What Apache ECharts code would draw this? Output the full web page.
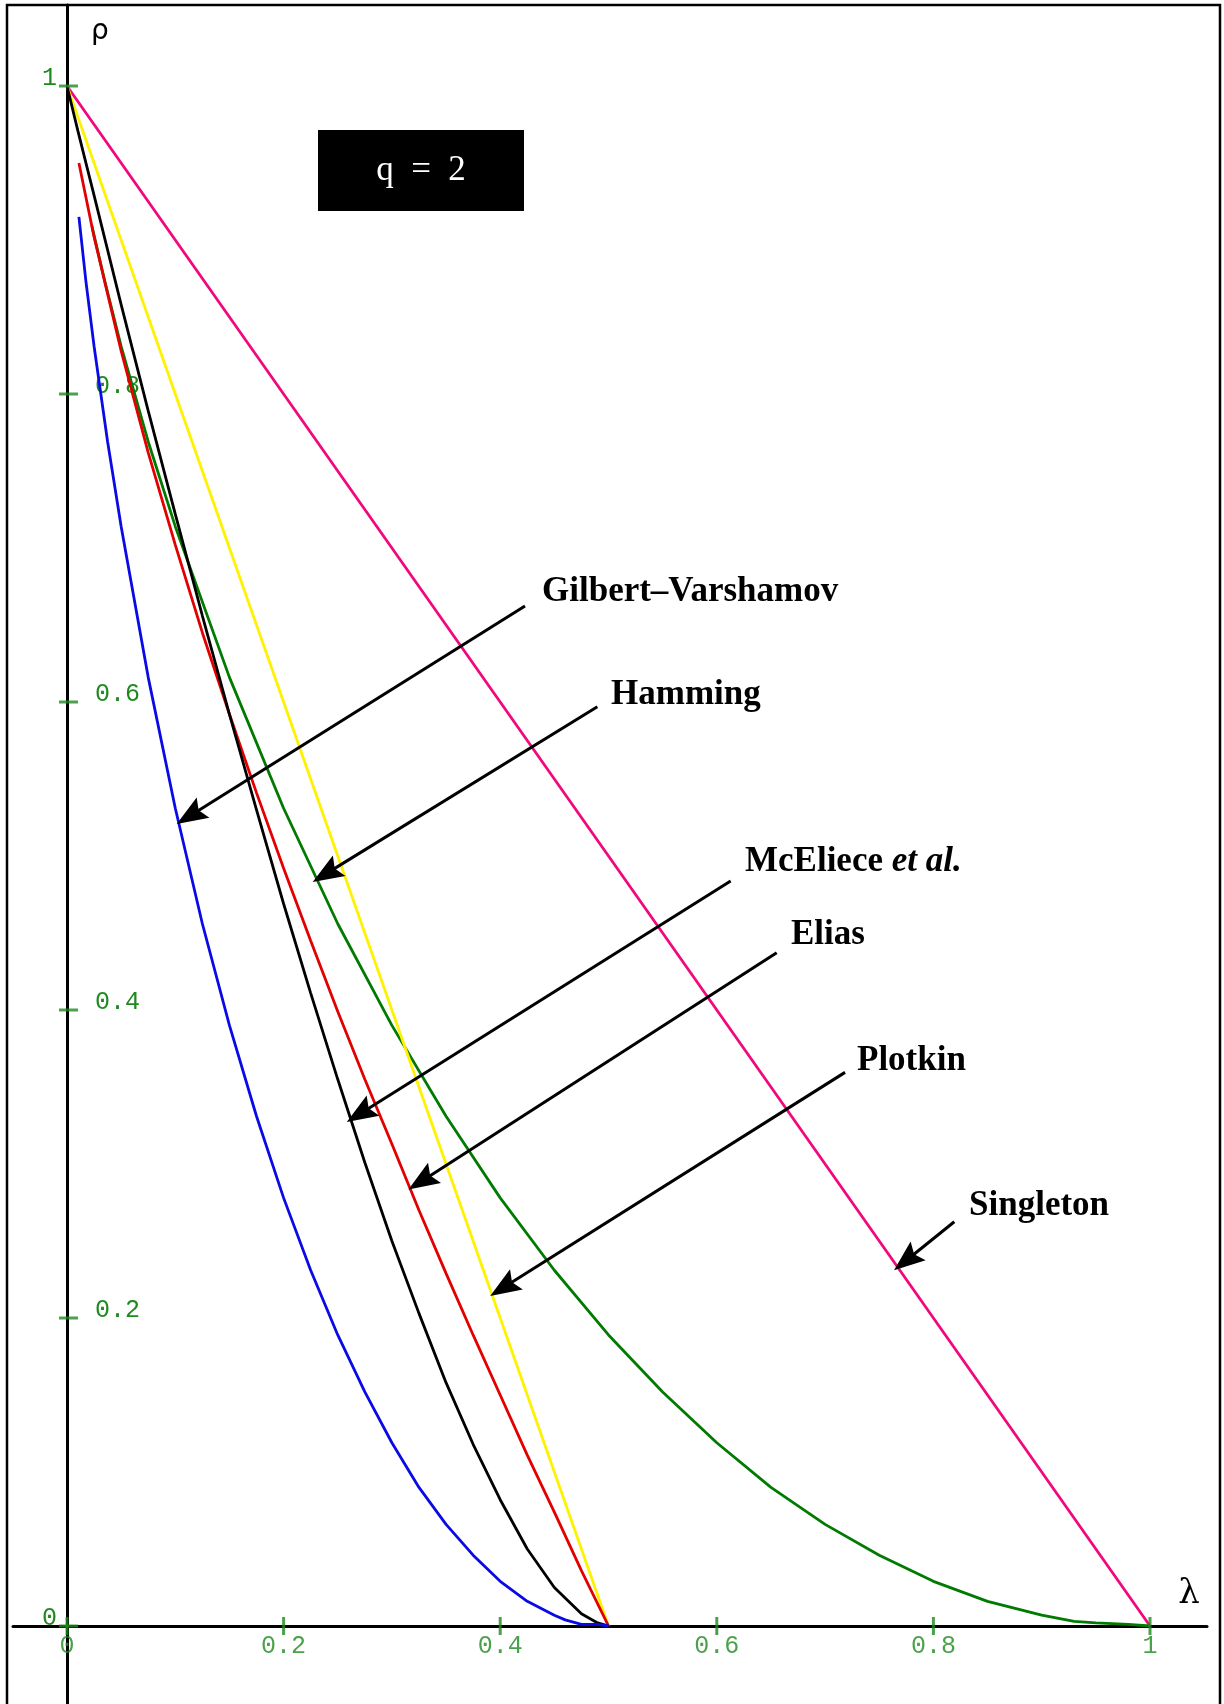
<!DOCTYPE html>
<html><head><meta charset="utf-8">
<script src="https://cdn.jsdelivr.net/npm/echarts@6/dist/echarts.min.js"></script>
<style>html,body{margin:0;padding:0;background:#fff}#c{width:1224px;height:1704px}</style>
</head><body><div id="c"></div>
<script>
// ---- tick values / labels ----
const xTickValues = [0, 0.2, 0.4, 0.6, 0.8, 1];
const xTickLabels = ['0', '0.2', '0.4', '0.6', '0.8', '1'];
const yTickValues = [0, 0.2, 0.4, 0.6, 0.8, 1];
const yLabelsInside = [0.2, 0.4, 0.6, 0.8];
const yLabelsOutside = [0, 1];

// ---- series (lambda, rho) ----
const gvLambda = [0.011, 0.0175, 0.025, 0.0375, 0.05, 0.075, 0.1, 0.125, 0.15, 0.175, 0.2, 0.225, 0.25, 0.275, 0.3, 0.325, 0.35, 0.375, 0.4, 0.425, 0.45, 0.46, 0.475, 0.49, 0.5];
const gvRho    = [0.915, 0.873, 0.831, 0.769, 0.714, 0.616, 0.531, 0.456, 0.390, 0.331, 0.278, 0.231, 0.189, 0.152, 0.119, 0.090, 0.066, 0.046, 0.029, 0.016, 0.007, 0.004, 0.001, 0.001, 0];

const hamLambda = [0.023, 0.035, 0.05, 0.075, 0.1, 0.15, 0.2, 0.25, 0.3, 0.35, 0.4, 0.45, 0.5, 0.55, 0.6, 0.65, 0.7, 0.75, 0.8, 0.85, 0.9, 0.93, 0.95, 0.98, 1];
const hamRho    = [0.909, 0.873, 0.831, 0.769, 0.714, 0.616, 0.531, 0.456, 0.390, 0.331, 0.278, 0.231, 0.189, 0.152, 0.119, 0.090, 0.066, 0.046, 0.029, 0.016, 0.007, 0.003, 0.002, 0.001, 0];

const eliasLambda = [0.011, 0.025, 0.05, 0.075, 0.1, 0.125, 0.15, 0.175, 0.2, 0.225, 0.25, 0.275, 0.3, 0.325, 0.35, 0.375, 0.4, 0.425, 0.45, 0.475, 0.5];
const eliasRho    = [0.950, 0.902, 0.828, 0.762, 0.702, 0.645, 0.592, 0.541, 0.492, 0.445, 0.399, 0.355, 0.313, 0.270, 0.229, 0.189, 0.150, 0.111, 0.074, 0.036, 0];

const mrrwLambda = [0, 0.01, 0.025, 0.05, 0.075, 0.1, 0.125, 0.15, 0.175, 0.2, 0.225, 0.25, 0.275, 0.3, 0.325, 0.35, 0.375, 0.4, 0.425, 0.45, 0.475, 0.49, 0.5];
const mrrwRho    = [1, 0.971, 0.929, 0.858, 0.789, 0.722, 0.656, 0.592, 0.530, 0.469, 0.411, 0.355, 0.301, 0.250, 0.203, 0.158, 0.118, 0.082, 0.050, 0.025, 0.008, 0.002, 0];

const plotkinLambda = [0, 0.1, 0.2, 0.3, 0.4, 0.5];
const plotkinRho    = [1, 0.8, 0.6, 0.4, 0.2, 0];

const singletonLambda = [0, 0.25, 0.5, 0.75, 1];
const singletonRho    = [1, 0.75, 0.5, 0.25, 0];

// ---- annotation arrows (data coordinates) ----
const arrowNames      = ['Gilbert–Varshamov', 'Hamming', 'McEliece et al.', 'Elias', 'Plotkin', 'Singleton'];
const arrowFromLambda = [0.4229, 0.4897, 0.6128, 0.6553, 0.7184, 0.8193];
const arrowFromRho    = [0.6623, 0.5969, 0.4838, 0.4372, 0.3595, 0.2625];
const arrowToLambda   = [0.1074, 0.2330, 0.2644, 0.3213, 0.3968, 0.7692];
const arrowToRho      = [0.5234, 0.4858, 0.3299, 0.2861, 0.2170, 0.2341];

const zip = (a, b) => a.map((v, i) => [v, b[i]]);
const GREEN = '#1e8a1e';
const X_MIN = -0.04986, X_MAX = 1.05263, Y_MIN = -0.05065, Y_MAX = 1.0526;
const ARROW_PATH = 'path://M11,0 L22,30 L11,25 L0,30 Z';

function curve(name, lx, ry, color, w) {
  return { name, type: 'line', data: zip(lx, ry), showSymbol: false, symbol: 'none',
    lineStyle: { color, width: w }, itemStyle: { color }, silent: true, z: 3 };
}

const labelFont = { fontFamily: 'Liberation Serif', fontWeight: 'bold', fontSize: 35, fill: '#000' };
function lbl(text, x, y) {
  return { type: 'text', x, y, z: 10, style: Object.assign({ text, verticalAlign: 'middle', align: 'left' }, labelFont) };
}
const monoLabel = { color: GREEN, fontFamily: 'Liberation Mono', fontSize: 25 };

const chart = echarts.init(document.getElementById('c'), null, { renderer: 'canvas' });
chart.setOption({
  animation: false,
  backgroundColor: '#fff',
  grid: { left: 13, right: 17, top: 5, bottom: 0, containLabel: false, outerBoundsMode: 'none' },
  xAxis: {
    type: 'value', min: X_MIN, max: X_MAX,
    axisLine: { onZero: true, lineStyle: { color: '#000', width: 3 } },
    axisTick: { show: false }, splitLine: { show: false }, axisLabel: { show: false }
  },
  yAxis: [
    { type: 'value', min: Y_MIN, max: Y_MAX,
      axisLine: { onZero: true, lineStyle: { color: '#000', width: 3 } },
      axisTick: { show: false }, axisLabel: { show: false }, splitLine: { show: false } },
    { type: 'value', min: Y_MIN, max: Y_MAX, position: 'left',
      axisLine: { show: false, onZero: false }, axisTick: { show: false }, splitLine: { show: false },
      axisLabel: Object.assign({ customValues: yLabelsInside, inside: true, margin: 82, align: 'left', verticalAlign: 'bottom',
        lineHeight: 16, formatter: v => String(v) }, monoLabel) },
    { type: 'value', min: Y_MIN, max: Y_MAX, position: 'left',
      axisLine: { show: false, onZero: false }, axisTick: { show: false }, splitLine: { show: false },
      axisLabel: Object.assign({ customValues: yLabelsOutside, inside: true, margin: 44, align: 'right', verticalAlign: 'bottom',
        lineHeight: 16, formatter: v => String(v) }, monoLabel) }
  ],
  series: [
    curve('Singleton', singletonLambda, singletonRho, '#f2087c', 2.8),
    curve('Hamming', hamLambda, hamRho, '#007a00', 2.8),
    curve('Plotkin', plotkinLambda, plotkinRho, '#fff200', 2.8),
    curve('Elias', eliasLambda, eliasRho, '#e30000', 2.8),
    curve('McEliece', mrrwLambda, mrrwRho, '#000000', 2.8),
    curve('Gilbert–Varshamov', gvLambda, gvRho, '#0a0ae6', 2.8),
    { name: 'xticks', type: 'scatter', silent: true, z: 5, symbol: 'rect', symbolSize: [3, 18],
      itemStyle: { color: GREEN }, data: xTickValues.map(v => [v, 0]),
      label: Object.assign({ show: true, position: 'bottom', distance: 2, lineHeight: 18,
        formatter: p => xTickLabels[p.dataIndex] }, monoLabel) },
    { name: 'yticks', type: 'scatter', silent: true, z: 5, symbol: 'rect', symbolSize: [19, 3], symbolOffset: [1.5, 0],
      itemStyle: { color: GREEN }, data: yTickValues.map(v => [0, v]) },
    { name: 'arrows', type: 'line', data: [], silent: true, z: 8,
      markLine: {
        silent: true, animation: false, symbol: ['none', ARROW_PATH],
        lineStyle: { color: '#000', width: 3, type: 'solid' },
        label: { show: false }, emphasis: { disabled: true },
        data: arrowNames.map((n, i) => [
          { coord: [arrowFromLambda[i], arrowFromRho[i]], symbol: 'none' },
          { coord: [arrowToLambda[i], arrowToRho[i]], symbol: ARROW_PATH, symbolSize: [24, 31], symbolOffset: [0, 7.75] }
        ])
      } }
  ],
  graphic: [
    { type: 'rect', z: 1, shape: { x: 7, y: 5, width: 1213, height: 1720 }, style: { fill: 'none', stroke: '#000', lineWidth: 2.5 } },
    { type: 'rect', z: 10, shape: { x: 318, y: 130, width: 206, height: 81 }, style: { fill: '#000' } },
    { type: 'text', z: 11, x: 421, y: 171, style: { text: 'q\u2002=\u20022', fill: '#fff', fontFamily: 'Liberation Serif', fontSize: 35, align: 'center', verticalAlign: 'middle' } },
    { type: 'text', z: 10, x: 91, y: 32, style: { text: 'ρ', fill: '#000', fontFamily: 'DejaVu Sans', fontSize: 28, align: 'left', verticalAlign: 'middle' } },
    { type: 'text', z: 10, x: 1189, y: 1594, style: { text: 'λ', fill: '#000', fontFamily: 'DejaVu Serif', fontSize: 34, align: 'center', verticalAlign: 'middle' } },
    lbl(arrowNames[0], 542, 592),
    lbl(arrowNames[1], 611, 695),
    { type: 'text', x: 745, y: 862, z: 10, style: { text: '{r|McEliece }{i|et al.}', verticalAlign: 'middle', align: 'left',
        rich: { r: Object.assign({}, labelFont), i: Object.assign({}, labelFont, { fontStyle: 'italic' }) } } },
    lbl(arrowNames[3], 791, 935),
    lbl(arrowNames[4], 857, 1061),
    lbl(arrowNames[5], 969, 1206)
  ]
});
</script></body></html>
